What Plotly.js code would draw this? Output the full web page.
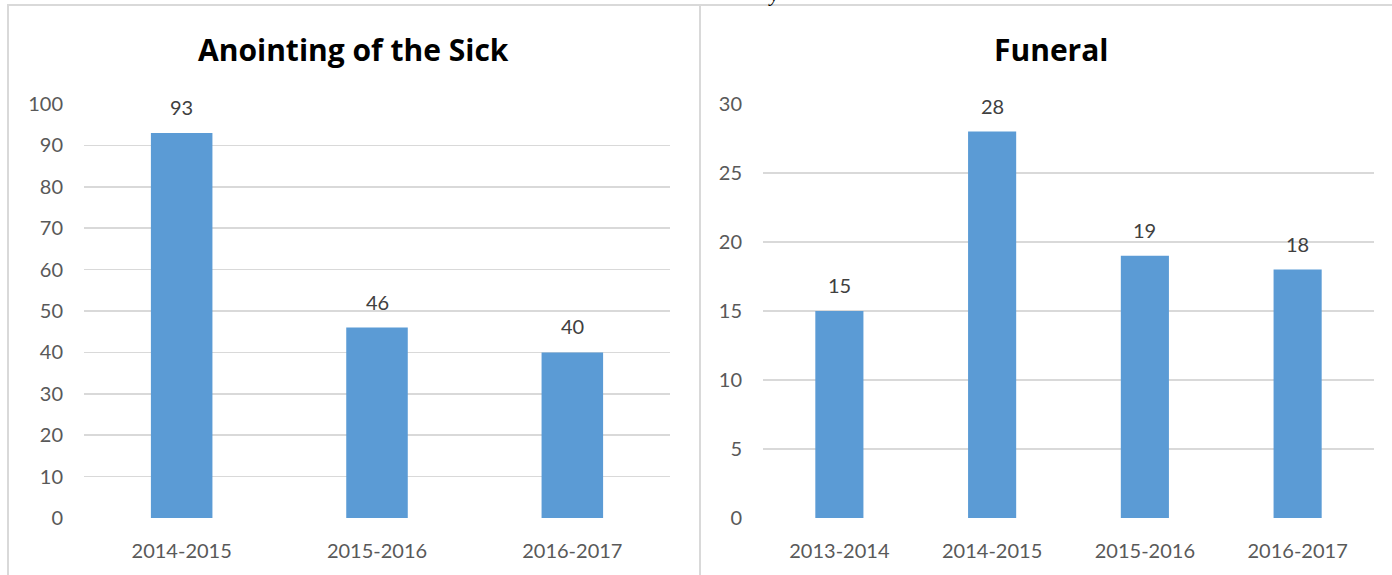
<!DOCTYPE html>
<html>
<head>
<meta charset="utf-8">
<script src="https://cdn.plot.ly/plotly-3.0.1.min.js"></script>
<style>html,body{margin:0;padding:0;background:#fff;}#chart{width:1392px;height:575px;}</style>
</head>
<body>
<div id="chart"></div>
<script>
const anointingTitle = "Anointing of the Sick";
const anointingYears = ["2014-2015", "2015-2016", "2016-2017"];
const anointingValues = [93, 46, 40];
const anointingTicks = [0, 10, 20, 30, 40, 50, 60, 70, 80, 90, 100];

const funeralTitle = "Funeral";
const funeralYears = ["2013-2014", "2014-2015", "2015-2016", "2016-2017"];
const funeralValues = [15, 28, 19, 18];
const funeralTicks = [0, 5, 10, 15, 20, 25, 30];

const W = 1392, H = 575;
const px = v => v / W;
const py = v => 1 - v / H;

const barColor = "#5B9BD5";
const gridColor = "#D9D9D9";
const tickFont = {family: "Lato, 'Open Sans', sans-serif", size: 20, color: "#595959"};
const labelFont = {family: "Lato, 'Open Sans', sans-serif", size: 20, color: "#404040"};
const titleFont = {family: "'Open Sans', Lato, sans-serif", size: 30, color: "#000000", weight: 700};

const traces = [
  {type: "bar", x: anointingYears, y: anointingValues, xaxis: "x", yaxis: "y",
   marker: {color: barColor}, hoverinfo: "none"},
  {type: "bar", x: funeralYears, y: funeralValues, xaxis: "x2", yaxis: "y2",
   marker: {color: barColor}, hoverinfo: "none"}
];

const annotations = [];
anointingYears.forEach((c, i) => annotations.push({
  x: c, y: anointingValues[i], xref: "x", yref: "y", text: String(anointingValues[i]),
  showarrow: false, yanchor: "bottom", yshift: 12, font: labelFont
}));
funeralYears.forEach((c, i) => annotations.push({
  x: c, y: funeralValues[i], xref: "x2", yref: "y2", text: String(funeralValues[i]),
  showarrow: false, yanchor: "bottom", yshift: 12, font: labelFont
}));
annotations.push({x: px(353), y: py(50), xref: "paper", yref: "paper", text: "<b>" + anointingTitle + "</b>",
  showarrow: false, xanchor: "center", yanchor: "middle", font: titleFont});
annotations.push({x: px(1051), y: py(50), xref: "paper", yref: "paper", text: "<b>" + funeralTitle + "</b>",
  showarrow: false, xanchor: "center", yanchor: "middle", font: titleFont});
annotations.push({x: px(773), y: 1, xref: "paper", yref: "paper", text: "<i>y</i>",
  showarrow: false, xanchor: "center", yanchor: "bottom", yshift: -8,
  font: {family: "'Liberation Serif', serif", size: 20, color: "#000"}});

const axisCommon = {
  showline: false, zeroline: false, ticks: "", fixedrange: true
};

const layout = {
  width: W, height: H,
  margin: {l: 0, r: 0, t: 0, b: 0},
  paper_bgcolor: "#ffffff", plot_bgcolor: "#ffffff",
  showlegend: false,
  bargap: 0.685,
  xaxis: Object.assign({}, axisCommon, {domain: [px(84), px(670)], anchor: "y",
    showgrid: false, tickfont: tickFont, ticklabelstandoff: 19}),
  yaxis: Object.assign({}, axisCommon, {domain: [py(518), py(104)], anchor: "x",
    range: [0, 100], tickvals: anointingTicks, showgrid: true, gridcolor: gridColor, gridwidth: 1.5,
    tickfont: tickFont, ticklabelstandoff: 20}),
  xaxis2: Object.assign({}, axisCommon, {domain: [px(763), px(1374)], anchor: "y2",
    showgrid: false, tickfont: tickFont, ticklabelstandoff: 19}),
  yaxis2: Object.assign({}, axisCommon, {domain: [py(518), py(104)], anchor: "x2",
    range: [0, 30], tickvals: funeralTicks, showgrid: true, gridcolor: gridColor, gridwidth: 1.5,
    tickfont: tickFont, ticklabelstandoff: 20}),
  annotations: annotations,
  shapes: [
    {type: "line", xref: "paper", yref: "paper", x0: px(7), x1: 1, y0: py(5), y1: py(5),
     line: {color: gridColor, width: 2}},
    {type: "line", xref: "paper", yref: "paper", x0: px(8), x1: px(8), y0: py(5), y1: 0,
     line: {color: gridColor, width: 2}},
    {type: "line", xref: "paper", yref: "paper", x0: px(700), x1: px(700), y0: py(5), y1: 0,
     line: {color: gridColor, width: 2}}
  ]
};

Plotly.newPlot("chart", traces, layout, {displayModeBar: false, staticPlot: true});
</script>
</body>
</html>
